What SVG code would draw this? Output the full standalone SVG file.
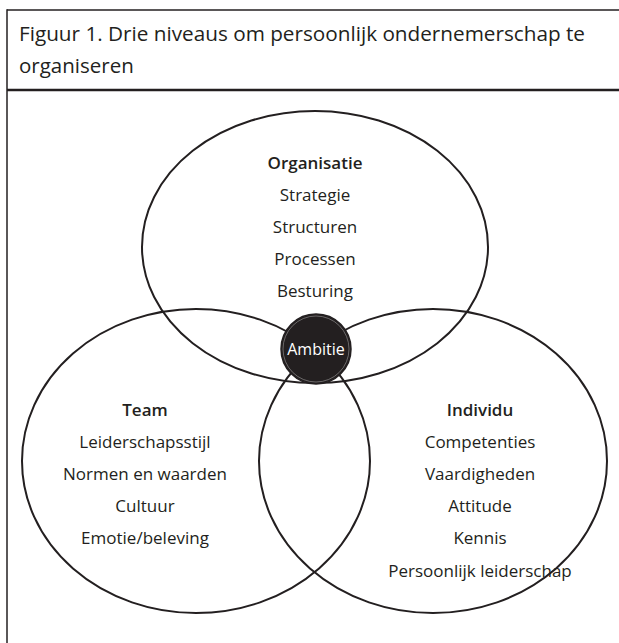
<svg xmlns="http://www.w3.org/2000/svg" width="619" height="643" viewBox="0 0 619 643">
  <style>
    .frame { fill: none; stroke: #231f20; }
    .ring { fill: none; stroke: #231f20; stroke-width: 2; }
    .title { font-family: "Open Sans", "Noto Sans", sans-serif; font-size: 20.5px; fill: #231f20; }
    .lbl { font-family: "Open Sans", "Noto Sans", sans-serif; font-size: 17px; fill: #231f20; text-anchor: middle; }
    .head { font-weight: 600; }
    .core { fill: #231f20; stroke: #231f20; stroke-width: 1.5; }
    .core-inner { fill: none; stroke: #9a9898; stroke-width: 0.6; }
    .core-lbl { font-family: "Open Sans", "Noto Sans", sans-serif; font-size: 16px; fill: #ffffff; text-anchor: middle; }
  </style>

  <rect width="619" height="643" fill="#ffffff"/>

  <!-- frame and title bar -->
  <g id="frame">
    <line class="frame" x1="7" y1="10" x2="619" y2="10" stroke-width="1.5"/>
    <line class="frame" x1="7" y1="9.3" x2="7" y2="643" stroke-width="1.5"/>
    <line class="frame" x1="7" y1="90" x2="619" y2="90" stroke-width="2.5"/>
    <text class="title" x="19" y="41" textLength="566" lengthAdjust="spacingAndGlyphs">Figuur 1. Drie niveaus om persoonlijk ondernemerschap te</text>
    <text class="title" x="19" y="73">organiseren</text>
  </g>

  <!-- the three overlapping levels -->
  <g id="connectors">
    <ellipse class="ring" cx="315" cy="247" rx="173" ry="136"/>
    <ellipse class="ring" cx="196" cy="461" rx="174" ry="152"/>
    <ellipse class="ring" cx="433" cy="461" rx="174" ry="152"/>
  </g>

  <g id="organisatie">
    <text class="lbl head" x="315" y="169">Organisatie</text>
    <text class="lbl" x="315" y="201">Strategie</text>
    <text class="lbl" x="315" y="233">Structuren</text>
    <text class="lbl" x="315" y="265">Processen</text>
    <text class="lbl" x="315" y="297">Besturing</text>
  </g>

  <g id="team">
    <text class="lbl head" x="145" y="416">Team</text>
    <text class="lbl" x="145" y="448">Leiderschapsstijl</text>
    <text class="lbl" x="145" y="480">Normen en waarden</text>
    <text class="lbl" x="145" y="512">Cultuur</text>
    <text class="lbl" x="145" y="544">Emotie/beleving</text>
  </g>

  <g id="individu">
    <text class="lbl head" x="480" y="416">Individu</text>
    <text class="lbl" x="480" y="448">Competenties</text>
    <text class="lbl" x="480" y="480">Vaardigheden</text>
    <text class="lbl" x="480" y="512">Attitude</text>
    <text class="lbl" x="480" y="544">Kennis</text>
    <text class="lbl" x="480" y="577">Persoonlijk leiderschap</text>
  </g>

  <g id="ambitie">
    <circle class="core" cx="316" cy="349" r="35"/>
    <circle class="core-inner" cx="316" cy="349" r="33"/>
    <text class="core-lbl" x="316" y="355">Ambitie</text>
  </g>
</svg>
